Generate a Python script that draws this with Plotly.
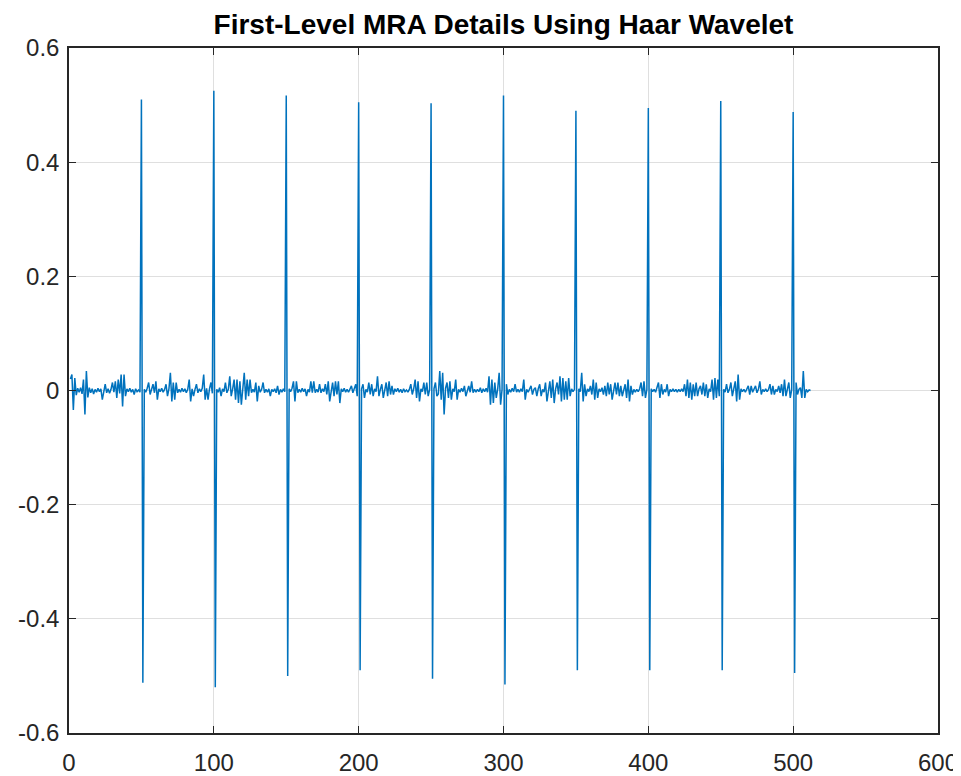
import plotly.graph_objects as go

# sample index 1..512
n_samples = 512
sample_index = list(range(1, n_samples + 1))

# first-level MRA detail values
d1_values = [
    0.020, 0.028, -0.034, 0.022, -0.008, 0.004, -0.003, 0.005, -0.006, 0.019, -0.042, 0.034, -0.012, 0.005, -0.004, 0.003,
    -0.006, 0.002, -0.003, 0.004, -0.002, 0.003, -0.016, 0.002, 0.011, -0.004, 0.003, -0.005, 0.002, 0.014, -0.003, 0.016,
    -0.013, 0.019, -0.005, 0.028, -0.028, 0.028, -0.010, 0.003, -0.002, 0.004, -0.003, 0.002, -0.007, 0.003, -0.002, 0.001,
    -0.003, 0.510, -0.512, 0.002, -0.003, 0.004, 0.014, -0.007, 0.002, 0.011, -0.004, 0.016, -0.016, 0.003, -0.002, 0.004,
    -0.003, 0.002, 0.011, -0.010, 0.003, 0.031, -0.019, 0.014, -0.016, 0.014, -0.004, 0.002, -0.003, 0.004, -0.002, 0.003,
    -0.004, 0.002, 0.019, -0.019, 0.003, -0.010, 0.002, 0.011, -0.004, 0.003, -0.002, 0.004, 0.028, -0.016, 0.004, -0.016,
    0.003, 0.014, -0.005, 0.525, -0.520, 0.002, -0.003, 0.005, -0.010, 0.003, -0.002, 0.014, -0.004, 0.002, 0.025, -0.010,
    0.003, 0.019, -0.016, 0.019, -0.022, 0.016, -0.025, 0.004, 0.031, -0.016, 0.019, -0.010, 0.019, -0.004, 0.002, -0.003,
    0.014, -0.019, 0.008, -0.003, 0.002, 0.014, -0.004, 0.002, -0.003, 0.003, -0.010, 0.002, -0.002, 0.003, -0.004, 0.008,
    -0.007, 0.002, -0.003, 0.003, -0.002, 0.517, -0.500, 0.003, -0.002, 0.004, 0.016, -0.019, 0.016, -0.004, 0.002, -0.003,
    0.004, -0.002, 0.003, -0.010, 0.002, -0.003, 0.016, -0.004, 0.016, -0.004, 0.002, -0.003, 0.011, -0.004, 0.003, -0.002,
    0.011, -0.007, 0.016, -0.019, 0.003, 0.014, -0.010, 0.016, -0.007, 0.016, -0.022, 0.003, -0.002, 0.004, -0.003, 0.002,
    -0.003, 0.002, 0.008, -0.004, 0.002, 0.011, -0.010, 0.505, -0.490, 0.003, 0.011, -0.013, 0.002, -0.003, 0.014, -0.007,
    0.011, -0.010, 0.003, -0.002, 0.025, -0.010, 0.002, 0.011, -0.013, 0.003, 0.014, -0.010, 0.016, -0.007, 0.008, -0.007,
    0.003, -0.002, 0.004, -0.003, 0.002, -0.004, 0.003, -0.002, 0.001, -0.003, 0.002, 0.011, -0.007, 0.003, 0.019, -0.013,
    0.016, -0.019, 0.003, -0.002, 0.014, -0.007, 0.014, -0.010, 0.002, 0.503, -0.505, 0.003, 0.014, -0.010, -0.006, 0.034,
    -0.016, 0.031, -0.042, 0.004, 0.014, -0.013, 0.016, -0.016, 0.003, -0.002, 0.019, -0.016, 0.002, -0.003, 0.004, -0.002,
    0.008, -0.010, 0.002, 0.008, -0.003, 0.016, -0.004, 0.002, -0.003, 0.002, -0.002, 0.005, -0.004, 0.003, -0.002, 0.004,
    -0.003, 0.025, -0.025, 0.019, -0.022, 0.014, -0.013, 0.003, 0.031, -0.025, 0.002, 0.517, -0.515, 0.011, -0.007, 0.002,
    -0.003, 0.004, -0.002, 0.011, -0.003, 0.002, -0.003, 0.003, -0.002, 0.019, -0.016, 0.002, -0.003, 0.004, 0.008, -0.007,
    0.002, 0.005, -0.010, 0.003, 0.011, -0.010, 0.002, -0.003, 0.014, -0.019, 0.003, 0.016, -0.013, 0.019, -0.022, 0.003,
    0.014, -0.007, 0.025, -0.019, 0.022, -0.016, 0.016, -0.016, 0.022, -0.010, 0.003, -0.002, 0.002, 0.490, -0.490, 0.003,
    -0.002, 0.031, -0.019, 0.011, -0.010, 0.003, -0.002, 0.008, -0.007, 0.019, -0.016, 0.014, -0.013, 0.003, -0.002, 0.005,
    -0.007, 0.008, -0.010, 0.014, -0.007, 0.011, -0.016, 0.003, 0.014, -0.007, 0.014, -0.010, 0.008, -0.010, 0.002, 0.011,
    -0.013, 0.019, -0.019, 0.008, -0.007, 0.002, -0.003, 0.002, -0.002, 0.003, 0.014, -0.010, 0.016, -0.013, 0.002, 0.495,
    -0.490, 0.003, -0.002, 0.002, -0.003, 0.004, 0.014, -0.013, 0.011, -0.007, 0.002, -0.003, 0.011, -0.010, 0.002, -0.002,
    0.003, -0.002, 0.002, -0.003, 0.002, -0.002, 0.003, -0.002, 0.011, -0.010, 0.019, -0.013, 0.014, -0.016, 0.011, -0.010,
    0.014, -0.010, 0.003, 0.008, -0.007, 0.014, -0.010, 0.011, -0.013, 0.003, -0.002, 0.019, -0.016, 0.022, -0.013, 0.019,
    -0.010, 0.507, -0.490, 0.002, -0.003, 0.011, -0.004, 0.002, 0.014, -0.010, 0.003, 0.016, -0.019, 0.028, -0.016, 0.003,
    -0.002, 0.002, -0.003, 0.002, 0.008, -0.007, 0.008, -0.003, 0.002, 0.008, -0.004, 0.002, 0.016, -0.007, 0.002, -0.002,
    0.003, -0.002, 0.002, 0.011, -0.007, 0.008, -0.007, 0.002, -0.002, 0.008, -0.004, 0.011, -0.010, 0.019, -0.010, 0.003,
    0.014, -0.013, 0.002, 0.488, -0.495, 0.014, -0.007, 0.002, 0.005, -0.013, 0.034, -0.013, 0.002, -0.002, 0.001, 0.000,
]

x_ticks = [0, 100, 200, 300, 400, 500, 600]
y_ticks = [-0.6, -0.4, -0.2, 0, 0.2, 0.4, 0.6]
y_tick_labels = ["-0.6", "-0.4", "-0.2", "0", "0.2", "0.4", "0.6"]
title_text = "First-Level MRA Details Using Haar Wavelet"

axis_color = "#262626"
grid_color = "#dfdfdf"
line_color = "#0072BD"
font_family = "Liberation Sans, Arial, Helvetica, sans-serif"

# the page places the figure 8 px in from the top-left corner
fig_w, fig_h = 953, 768

fig = go.Figure()
fig.add_trace(go.Scatter(
    x=sample_index, y=d1_values, mode="lines",
    line=dict(color=line_color, width=1.5),
    hoverinfo="x+y", showlegend=False,
))

fig.update_layout(
    width=fig_w, height=fig_h,
    margin=dict(l=61, r=23, t=40, b=43),
    paper_bgcolor="white", plot_bgcolor="white",
    font=dict(family=font_family, color=axis_color, size=24),
    title=dict(
        text="<b>" + title_text + "</b>",
        x=0.5, xref="paper", xanchor="center",
        y=1 - 16 / fig_h, yref="container", yanchor="middle",
        font=dict(family=font_family, size=28, color="#000000"),
    ),
    showlegend=False,
)

fig.update_xaxes(
    range=[0, 600], tickmode="array", tickvals=x_ticks,
    automargin=False,
    showgrid=True, gridcolor=grid_color, gridwidth=1,
    zeroline=False, showline=True, linecolor=axis_color, linewidth=1.5,
    mirror="ticks", ticks="inside", ticklen=7, tickcolor=axis_color, tickwidth=1,
    tickfont=dict(size=24, color=axis_color), ticklabelstandoff=7,
)
fig.update_yaxes(
    range=[-0.6, 0.6], tickmode="array", tickvals=y_ticks, ticktext=y_tick_labels,
    automargin=False,
    showgrid=True, gridcolor=grid_color, gridwidth=1,
    zeroline=False, showline=True, linecolor=axis_color, linewidth=1.5,
    mirror="ticks", ticks="inside", ticklen=7, tickcolor=axis_color, tickwidth=1,
    tickfont=dict(size=24, color=axis_color), ticklabelstandoff=3,
)

fig.write_html("out.html")
